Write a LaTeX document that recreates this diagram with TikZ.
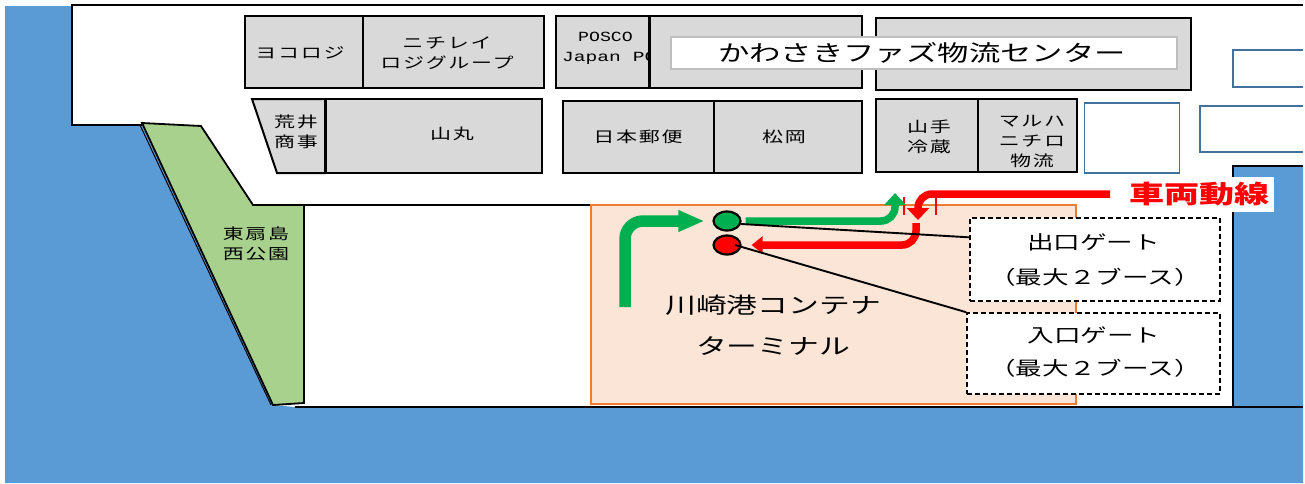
\documentclass[tikz,border=0pt]{standalone}
\usepackage{fontspec}
\usetikzlibrary{arrows.meta,shapes.geometric}
\newfontfamily\jp{Noto Sans CJK JP}
\newfontfamily\jps[LetterSpace=8]{Noto Sans CJK JP}
\newfontfamily\mon{Liberation Mono}
\newcommand{\wdn}[1]{\scalebox{1.4}[1]{#1}}
\newcommand{\wdm}[1]{\scalebox{1.3}[1]{#1}}
\definecolor{sea}{HTML}{5B9BD5}
\definecolor{park}{HTML}{A9D18E}
\definecolor{cellgray}{HTML}{D9D9D9}
\definecolor{termline}{HTML}{ED7D31}
\definecolor{termfill}{HTML}{FBE5D6}
\definecolor{goarrow}{HTML}{00B050}
\definecolor{plotline}{HTML}{41719C}
\tikzset{
  cell/.style={draw=black,fill=cellgray,line width=2pt,inner sep=0pt,minimum height=72pt},
  plot/.style={draw=plotline,fill=white,line width=1.7pt,inner sep=0pt},
  small/.style={inner sep=0pt,align=center,font=\jps\fontsize{15}{20}\selectfont},
  mid/.style={inner sep=0pt,align=center,font=\jp\fontsize{19}{35}\selectfont},
  big/.style={inner sep=0pt,align=center,font=\jp\fontsize{22}{41}\selectfont},
  gatebox/.style={draw=black,fill=white,line width=1.6pt,inner sep=0pt,dash pattern=on 5pt off 3pt},
  shore/.style={draw=black,line width=2.6pt},
  lamp/.style={draw=black,line width=2.2pt,ellipse,minimum width=27pt,minimum height=19pt,inner sep=0pt},
  goline/.style={draw=goarrow,line width=11.5pt,rounded corners=18pt},
  goline2/.style={draw=goarrow,line width=7.5pt,rounded corners=14pt},
  stopline/.style={draw=red,line width=7.5pt,rounded corners=14pt},
  lead/.style={draw=black,line width=1.9pt},
  tick/.style={draw=red,line width=1.6pt}
}
\begin{document}
\begin{tikzpicture}[x=1pt,y=-1pt]
\useasboundingbox (0,0) rectangle (1305,483);
% sea
\fill[white] (0,0) rectangle (1305,483);
\fill[sea] (5,6) -- (72,6) -- (72,125) -- (142,125) -- (273,405) -- (295,407) -- (1233,407) -- (1233,166) -- (1303,166) -- (1303,483) -- (5,483) -- cycle;
% shoreline
\draw[shore] (1303,5) -- (72,5) -- (72,125) -- (142,125);
\draw[shore] (253,205) -- (591,205);
\draw[shore] (295,407) -- (1303,407);
\draw[shore] (1303,166) -- (1233,166) -- (1233,407);
% park
\draw[draw=black,fill=park,line width=1.8pt] (142,123) -- (201,126) -- (253,205) -- (304,205) -- (304,403) -- (273,405) -- cycle;
\draw[black,line width=1pt] (140,125) -- (271,405);
\node[small] (parkname) at (256,244) {\wdn{東扇島}\\\wdn{西公園}};
% upper row
\node[cell,minimum width=118pt] (yoko) at (304,52) {};
\node[cell,minimum width=181pt] (nichirei) at (453.5,52) {};
\node[small] at (300,53) {\wdn{ヨコロジ}};
\node[small] at (447,53) {\wdn{ニチレイ}\\\wdn{ロジグループ}};
\node[cell,minimum width=93pt] (posco) at (602,52) {};
\node[inner sep=0pt,anchor=west,font=\mon\fontsize{14}{20}\selectfont,align=left] at (562,48) {\hspace*{16pt}\wdm{POSCO}\\\wdn{Japan PC}};
\node[cell,minimum width=213pt] (fazleft) at (755,52) {};
\draw[black,line width=3pt] (649,16) -- (649,88);
\node[cell,minimum width=315pt] (fazright) at (1033,54) {};
\node[draw=black!25,fill=white,line width=1.8pt,minimum width=506pt,minimum height=32pt,inner sep=0pt] (faz) at (924,53) {};
\node[inner sep=0pt,font=\jp\fontsize{22.4}{26}\selectfont] at (922,53) {\wdn{かわさきファズ物流センター}};
% lower row
\draw[black,fill=cellgray,line width=2pt] (252,99) -- (325,99) -- (325,173) -- (277,173) -- cycle;
\node[cell,minimum width=217pt,minimum height=74pt] (yamamaru) at (433.5,136) {};
\draw[black,line width=3pt] (325,99) -- (325,173);
\node[small] at (296,132) {\wdn{荒井}\\\wdn{商事}};
\node[small] at (452,134) {\wdn{山丸}};
\node[cell,minimum width=151pt] (nihon) at (638.5,137) {};
\node[cell,minimum width=148pt] (matsu) at (788,137) {};
\node[small] at (638,137) {\wdn{日本郵便}};
\node[small] at (784,137) {\wdn{松岡}};
\node[cell,minimum width=102pt,minimum height=73pt] (yamate) at (926.5,135.5) {};
\node[cell,minimum width=99pt,minimum height=73pt] (maruha) at (1027,135.5) {};
\node[small] at (929,137) {\wdn{山手}\\\wdn{冷蔵}};
\node[small] at (1032,141) {\wdn{マルハ}\\\wdn{ニチロ}\\\wdn{物流}};
% vacant plots
\node[plot,minimum width=95pt,minimum height=70pt] (plota) at (1132,138) {};
\draw[plotline,line width=1.7pt,fill=white] (1303,106) -- (1200,106) -- (1200,152) -- (1303,152);
\draw[plotline,line width=1.7pt,fill=white] (1303,50) -- (1233,50) -- (1233,87) -- (1303,87);
% terminal
\node[draw=termline,fill=termfill,line width=2.6pt,minimum width=485pt,minimum height=199pt,inner sep=0pt] (terminal) at (833.5,304.5) {};
\node[big] (termname) at (773,325.5) {\wdn{川崎港コンテナ}\\\wdn{ターミナル}};
% gates
\node[gatebox,minimum width=250pt,minimum height=83pt] (exitgate) at (1095,259.5) {};
\node[mid] at (1095,260) {\hspace*{-3pt}\wdn{出口ゲート}\\\wdn{（最大２ブース）}};
\node[gatebox,minimum width=253pt,minimum height=81pt] (entrygate) at (1093.5,353.5) {};
\node[mid,font=\jp\fontsize{19}{33}\selectfont] at (1095,352.5) {\hspace*{-2pt}\wdn{入口ゲート}\\\wdn{（最大２ブース）}};
% lamps
\node[lamp,fill=goarrow] (greenlamp) at (727,221) {};
\node[lamp,fill=red] (redlamp) at (727,245) {};
% route coordinates
\coordinate (gostart) at (625,307);
\coordinate (gotip) at (895,193);
\coordinate (stopstart) at (1110,194);
\coordinate (stoptip) at (918,220);
\coordinate (stopturn) at (916,223);
\coordinate (redout) at (735,245);
% ticks
\coordinate (ticka) at (904,197);
\coordinate (tickb) at (904,215);
\coordinate (tickc) at (936,197);
\coordinate (tickd) at (936,215);
\draw[tick] (ticka) -- (tickb);
\draw[tick] (tickc) -- (tickd);
% routes
\draw[goline,-{Triangle[length=26pt,width=20pt]},shorten >=8pt] (gostart) |- (greenlamp.west);
\draw[goline2,-{Triangle[length=12pt,width=21pt]},shorten <=4pt] (greenlamp.east) -| (gotip);
\draw[stopline,-{Triangle[length=12pt,width=22pt]}] (stopstart) -| (stoptip);
\draw[stopline,-{Triangle[length=11pt,width=17pt]},shorten >=10pt] (stopturn) |- (redlamp.east);
% leaders
\draw[lead] (greenlamp.-12) -- (exitgate.170);
\draw[lead] (redout) -- (entrygate.north west);
% legend
\node[fill=white,minimum width=149pt,minimum height=35pt,inner sep=0pt,text=red,font=\jp\bfseries\fontsize{25}{28}\selectfont] (legend) at (1199,194.5) {\wdn{車両動線}};
\end{tikzpicture}
\end{document}
